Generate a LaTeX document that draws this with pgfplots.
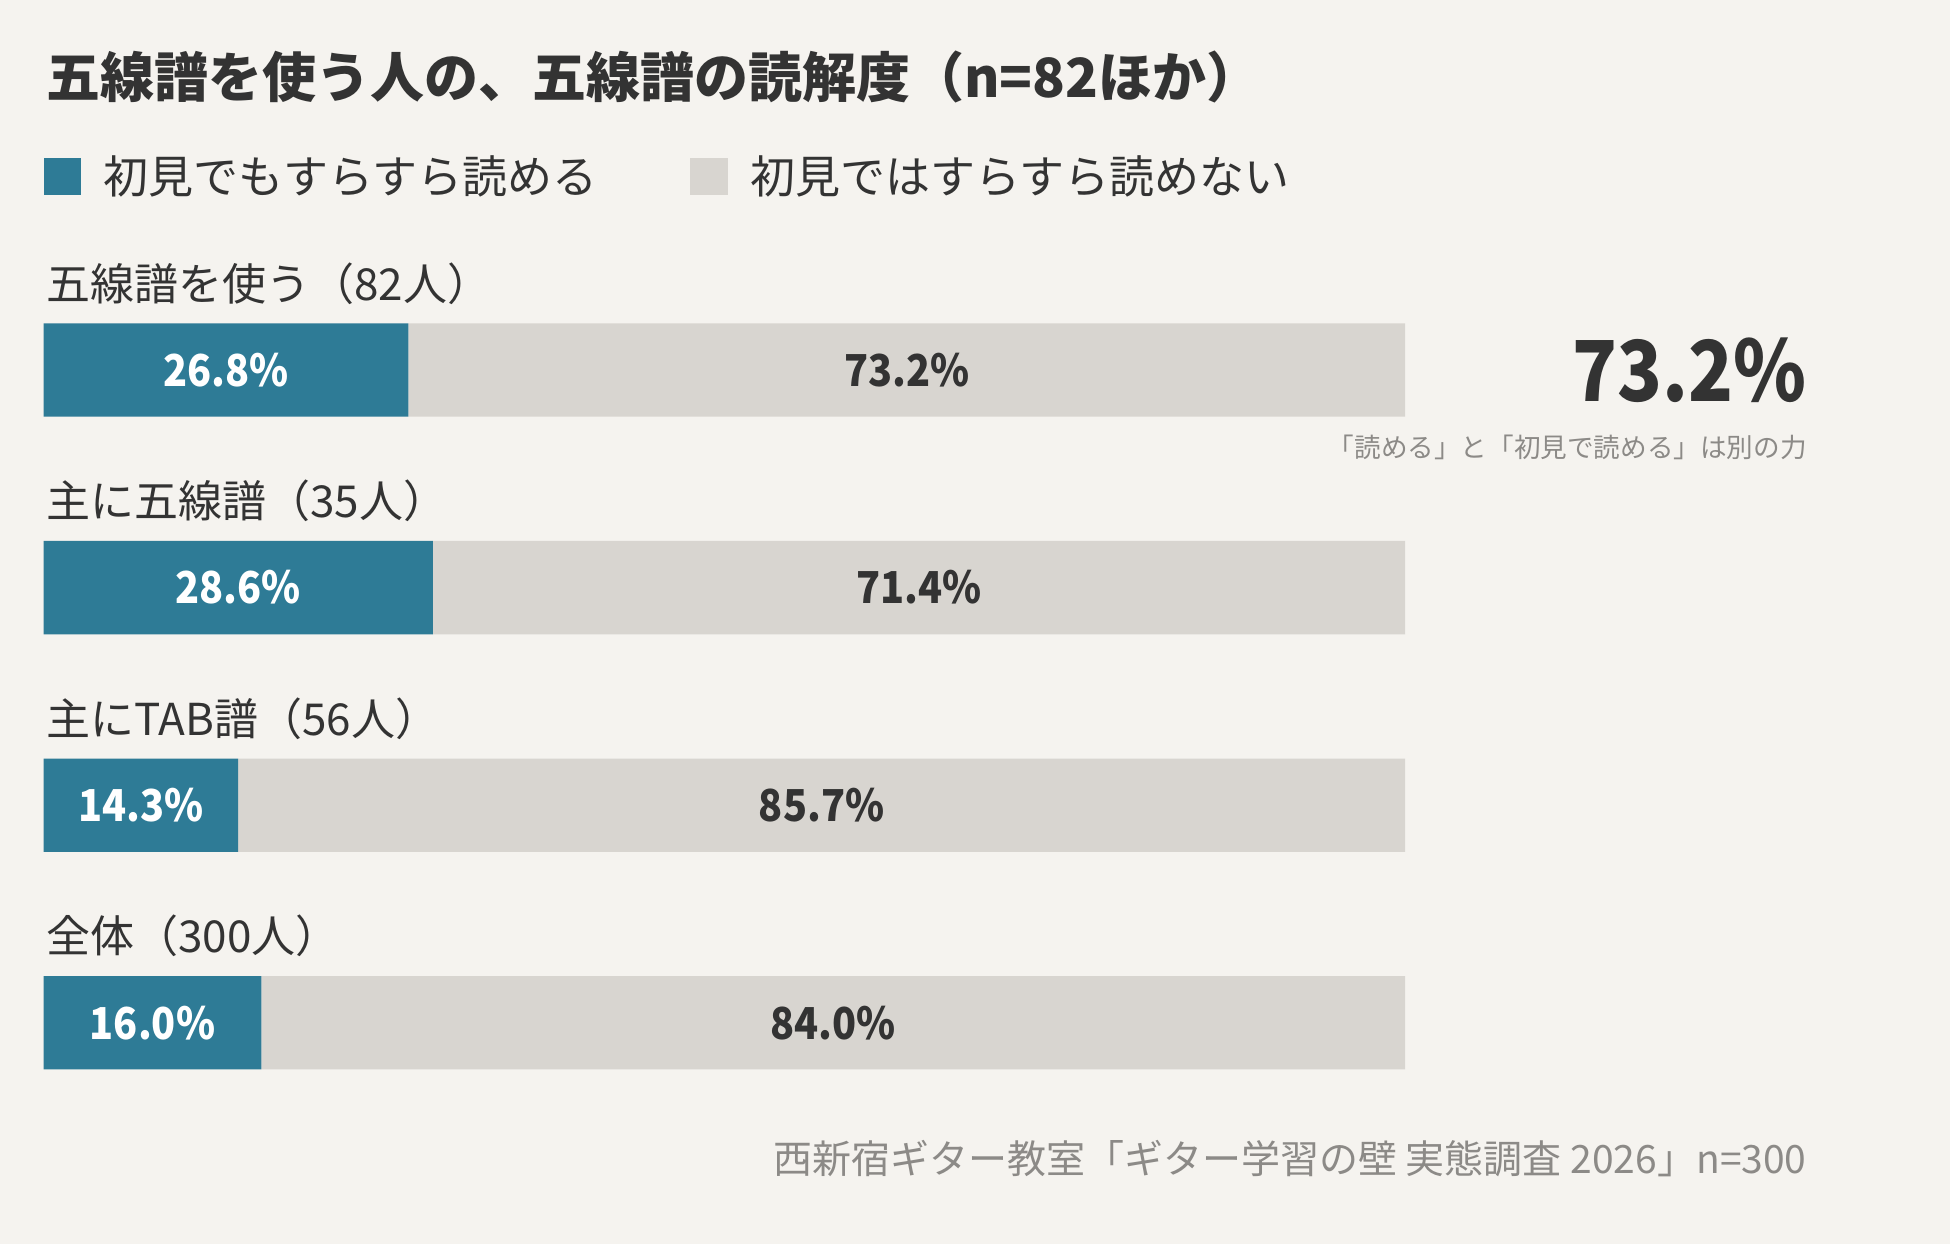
\documentclass[border=0pt]{standalone}
\usepackage{pgfplots}
\pgfplotsset{compat=1.18}
\usepackage{fontspec}
\setmainfont{Noto Sans CJK JP}
\newfontfamily\numfont[FakeStretch=0.9]{Noto Sans CJK JP}
\newfontfamily\bignumfont[FakeStretch=0.88]{Noto Sans CJK JP}
\definecolor{bgc}{HTML}{F5F3EF}
\definecolor{cblue}{HTML}{2E7B96}
\definecolor{lgray}{HTML}{D8D5D0}
\definecolor{dark}{HTML}{333333}
\definecolor{mgray}{HTML}{8C8A87}
\newcommand{\barfont}{\numfont\fontsize{22bp}{26bp}\selectfont\bfseries}
\begin{document}
\begin{tikzpicture}
\begin{scope}[x=0.5bp,y=-0.5bp]
\fill[bgc] (0,0) rectangle (1950,1244);
% title
\node[anchor=west,text=dark,inner sep=0] at (46,77) {\fontsize{27bp}{32bp}\selectfont\bfseries 五線譜を使う人の、五線譜の読解度（n=82ほか）};
% legend
\fill[cblue] (43.5,158) rectangle (81,195.5);
\node[anchor=west,text=dark,inner sep=0] at (103,176.6) {\fontsize{22.5bp}{27bp}\selectfont 初見でもすらすら読める};
\fill[lgray] (690,158) rectangle (727.5,195.5);
\node[anchor=west,text=dark,inner sep=0] at (750,176.6) {\fontsize{22.5bp}{27bp}\selectfont 初見ではすらすら読めない};
% category labels
\node[anchor=west,text=dark,inner sep=0] at (46,283.5) {\fontsize{22bp}{26bp}\selectfont 五線譜を使う（82人）};
\node[anchor=west,text=dark,inner sep=0] at (46,501) {\fontsize{22bp}{26bp}\selectfont 主に五線譜（35人）};
\node[anchor=west,text=dark,inner sep=0] at (46,719) {\fontsize{22bp}{26bp}\selectfont 主にTAB譜（56人）};
\node[anchor=west,text=dark,inner sep=0] at (46,936) {\fontsize{22bp}{26bp}\selectfont 全体（300人）};
% callout
\node[anchor=east,text=dark,inner sep=0] at (1807,370.6) {\bignumfont\fontsize{42bp}{50bp}\selectfont\bfseries 73.2\%};
\node[anchor=east,text=mgray,inner sep=0] at (1807,447.7) {\fontsize{13.3bp}{16bp}\selectfont 「読める」と「初見で読める」は別の力};
% source
\node[anchor=east,text=mgray,inner sep=0] at (1807,1159) {\fontsize{19.5bp}{23bp}\selectfont 西新宿ギター教室「ギター学習の壁 実態調査 2026」n=300};
\end{scope}
\begin{axis}[
  at={(21.75bp,-130.6bp)}, anchor=north west,
  scale only axis, width=680.75bp, height=435.2bp,
  xbar stacked, bar width=46.65bp,
  xmin=0, xmax=100, ymin=-0.5, ymax=3.5, y dir=reverse,
  hide axis, clip=false,
]
\addplot[fill=cblue, draw=none] coordinates {(26.8,0) (28.6,1) (14.3,2) (16.0,3)};
\addplot[fill=lgray, draw=none] coordinates {(73.2,0) (71.4,1) (85.7,2) (84.0,3)};
\coordinate (a0) at (axis cs:13.4,0);
\coordinate (a1) at (axis cs:14.3,1);
\coordinate (a2) at (axis cs:7.15,2);
\coordinate (a3) at (axis cs:8.0,3);
\coordinate (b0) at (axis cs:63.4,0);
\coordinate (b1) at (axis cs:64.3,1);
\coordinate (b2) at (axis cs:57.15,2);
\coordinate (b3) at (axis cs:58.0,3);
\end{axis}
\node[text=white] at (a0) {\barfont 26.8\%};
\node[text=white] at (a1) {\barfont 28.6\%};
\node[text=white] at (a2) {\barfont 14.3\%};
\node[text=white] at (a3) {\barfont 16.0\%};
\node[text=dark] at (b0) {\barfont 73.2\%};
\node[text=dark] at (b1) {\barfont 71.4\%};
\node[text=dark] at (b2) {\barfont 85.7\%};
\node[text=dark] at (b3) {\barfont 84.0\%};
\end{tikzpicture}
\end{document}
